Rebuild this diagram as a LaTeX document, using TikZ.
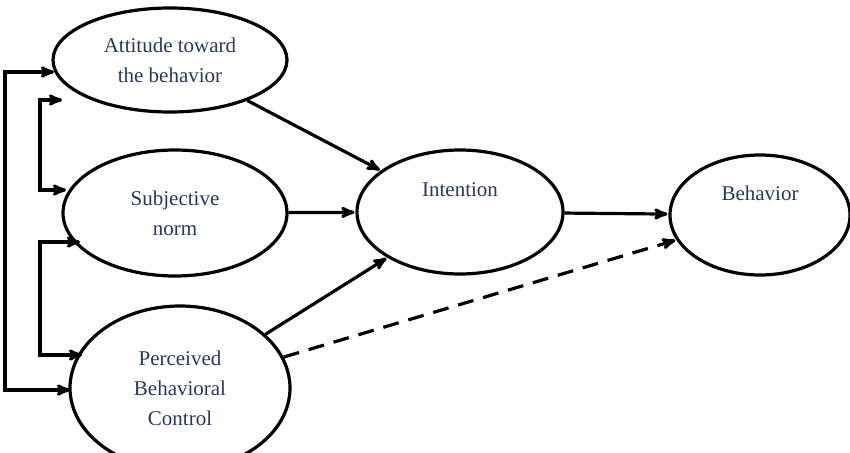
\documentclass[tikz,border=0pt]{standalone}
\usepackage{fontspec}
\setmainfont{Liberation Serif}
\usetikzlibrary{shapes.geometric,arrows}
\definecolor{txtblue}{RGB}{40,55,95}
\begin{document}
\begin{tikzpicture}[x=1pt,y=-1pt,>=stealth',line width=3.2pt]
  \tikzstyle{construct}=[ellipse,draw=black,line width=3.2pt,text=txtblue,
                         font=\fontsize{21}{30}\selectfont,align=center,inner sep=0pt]
  \tikzstyle{link}=[->,shorten >=1pt]
  \useasboundingbox (0,0) rectangle (850,452);
  \clip (0,0) rectangle (850,452);
  \node [construct,minimum width=234,minimum height=104] (att) at (170,60) {Attitude toward\\the behavior};
  \node [construct,minimum width=224,minimum height=126] (sub) at (175,213) {Subjective\\norm};
  \node [construct,minimum width=220,minimum height=164] (pbc) at (180,388) {Perceived\\Behavioral\\Control};
  \node [construct,minimum width=206,minimum height=124] (int) at (460,212) {Intention\\[14pt]};
  \node [construct,minimum width=180,minimum height=120] (beh) at (760,215) {Behavior\\[14pt]};
  % correlations
  \coordinate (o1) at (5,72);
  \coordinate (o2) at (5,390);
  \coordinate (i1) at (40,100);
  \coordinate (i2) at (40,190);
  \coordinate (i3) at (40,242);
  \coordinate (i4) at (40,355);
  \draw [<->] (54,72) -- (o1) -- (o2) -- (70,390);
  \draw [<->] (62,100) -- (i1) -- (i2) -- (66,190);
  \draw [<->] (80,242) -- (i3) -- (i4) -- (82,355);
  % paths
  \draw [link] (att) -- (int);
  \draw [link] (sub) -- (int);
  \draw [link] (pbc) -- (int);
  \draw [link] (int) -- (beh);
  \draw [link,dash pattern=on 16pt off 10pt] (pbc) -- (beh);
\end{tikzpicture}
\end{document}
